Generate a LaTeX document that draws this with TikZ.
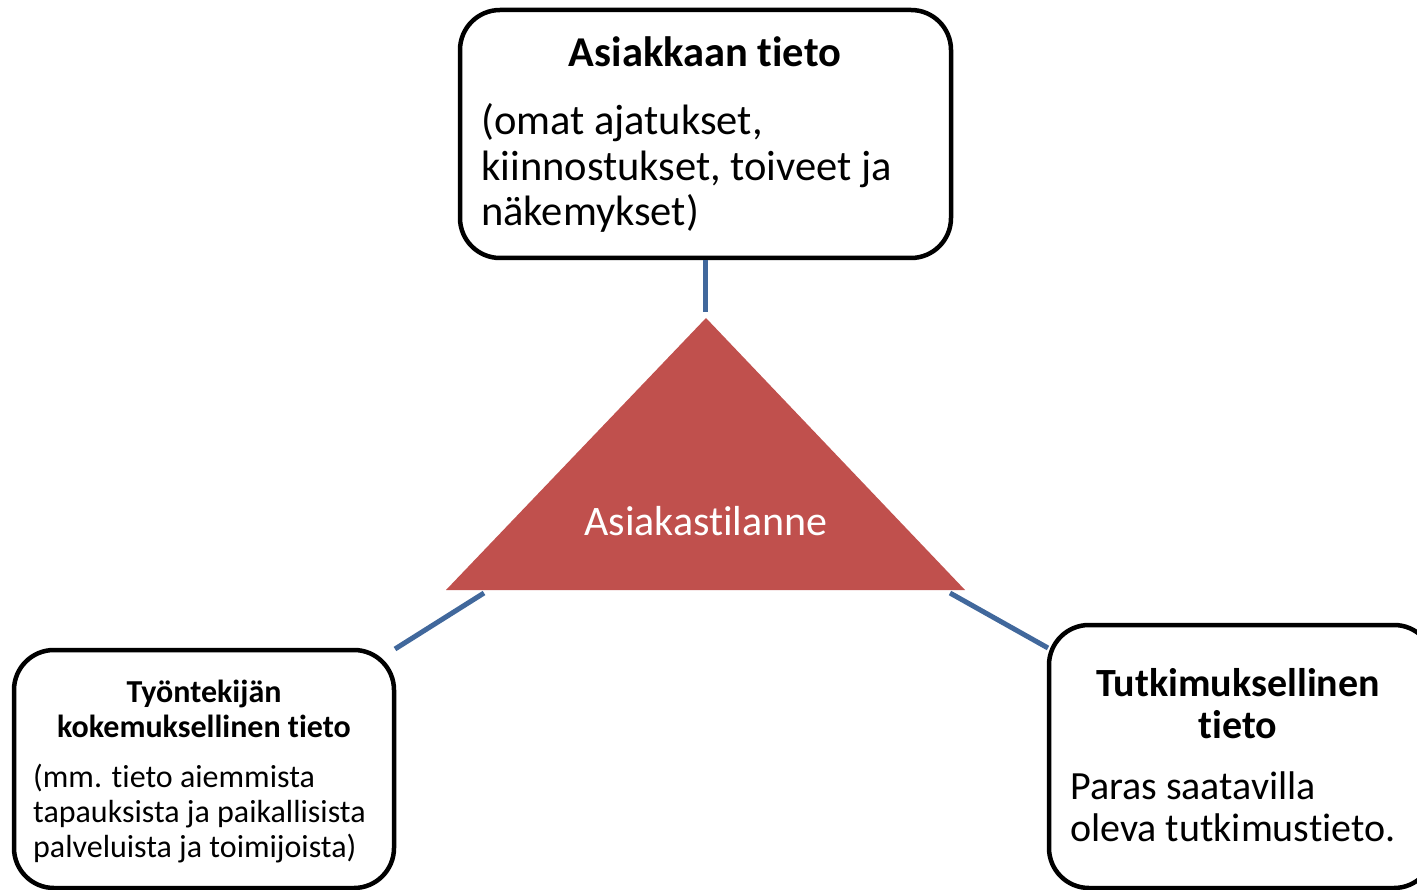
\documentclass[tikz,border=0pt]{standalone}
\usepackage{fontspec}
\setmainfont[Ligatures=NoCommon]{Carlito}
\definecolor{tri}{HTML}{C0504D}
\definecolor{con}{HTML}{41689C}
\tikzset{
  box/.style={draw=black, line width=4.5pt, rounded corners=40pt, fill=white, inner sep=0pt},
  conn/.style={draw=con, line width=5pt},
  ttl/.style={inner sep=0pt, align=center, anchor=base},
  body/.style={inner sep=0pt, align=left, anchor=base west},
}
\begin{document}
\begin{tikzpicture}[x=1pt,y=-1pt]
\clip (0,0) rectangle (1417,890);
\useasboundingbox (0,0) rectangle (1417,890);
% triangle
\fill[tri] (706,318) coordinate (apex) -- (965,590) coordinate (br) -- (446,590) coordinate (bl) -- cycle;
\node[text=white, font=\fontsize{42}{46}\selectfont, inner sep=0pt, anchor=base] (sit) at (706,535) {Asiakastilanne};
% boxes
\node[box, minimum width=491pt, minimum height=248pt] (top) at (705.5,134) {};
\node[box, minimum width=380pt, minimum height=238pt] (left) at (204,769) {};
\node[box, minimum width=385pt, minimum height=263pt] (right) at (1241.5,756.5) {};
% top box text
\node[ttl, font=\fontsize{42.5}{46}\selectfont\bfseries] (topt) at (705,67) {Asiakkaan tieto};
\node[body, font=\fontsize{42.5}{45.5}\selectfont] (topb) at (481,226) {(omat ajatukset,\\kiinnostukset, toiveet ja\\näkemykset)};
% left box text
\node[ttl, font=\fontsize{32}{35}\selectfont\bfseries] (leftt) at (204,737) {Työntekijän\\kokemuksellinen tieto};
\node[body, font=\fontsize{32}{35}\selectfont] (leftb) at (33,857) {(mm. tieto aiemmista\\tapauksista ja paikallisista\\palveluista ja toimijoista)};
% right box text
\node[ttl, font=\fontsize{40}{42}\selectfont\bfseries] (rightt) at (1238,738) {Tutkimuksellinen\\tieto};
\node[body, font=\fontsize{40}{42}\selectfont] (rightb) at (1070,841) {Paras saatavilla\\oleva tutkimustieto.};
% connectors
\coordinate (ca) at (705.5,312);
\coordinate (cl1) at (484,593);
\coordinate (cl2) at (395,649);
\coordinate (cr1) at (950,593);
\coordinate (cr2) at (1048,648);
\draw[conn] (top.south) -- (ca);
\draw[conn] (cl1) -- (cl2);
\draw[conn] (cr1) -- (cr2);
\end{tikzpicture}
\end{document}
